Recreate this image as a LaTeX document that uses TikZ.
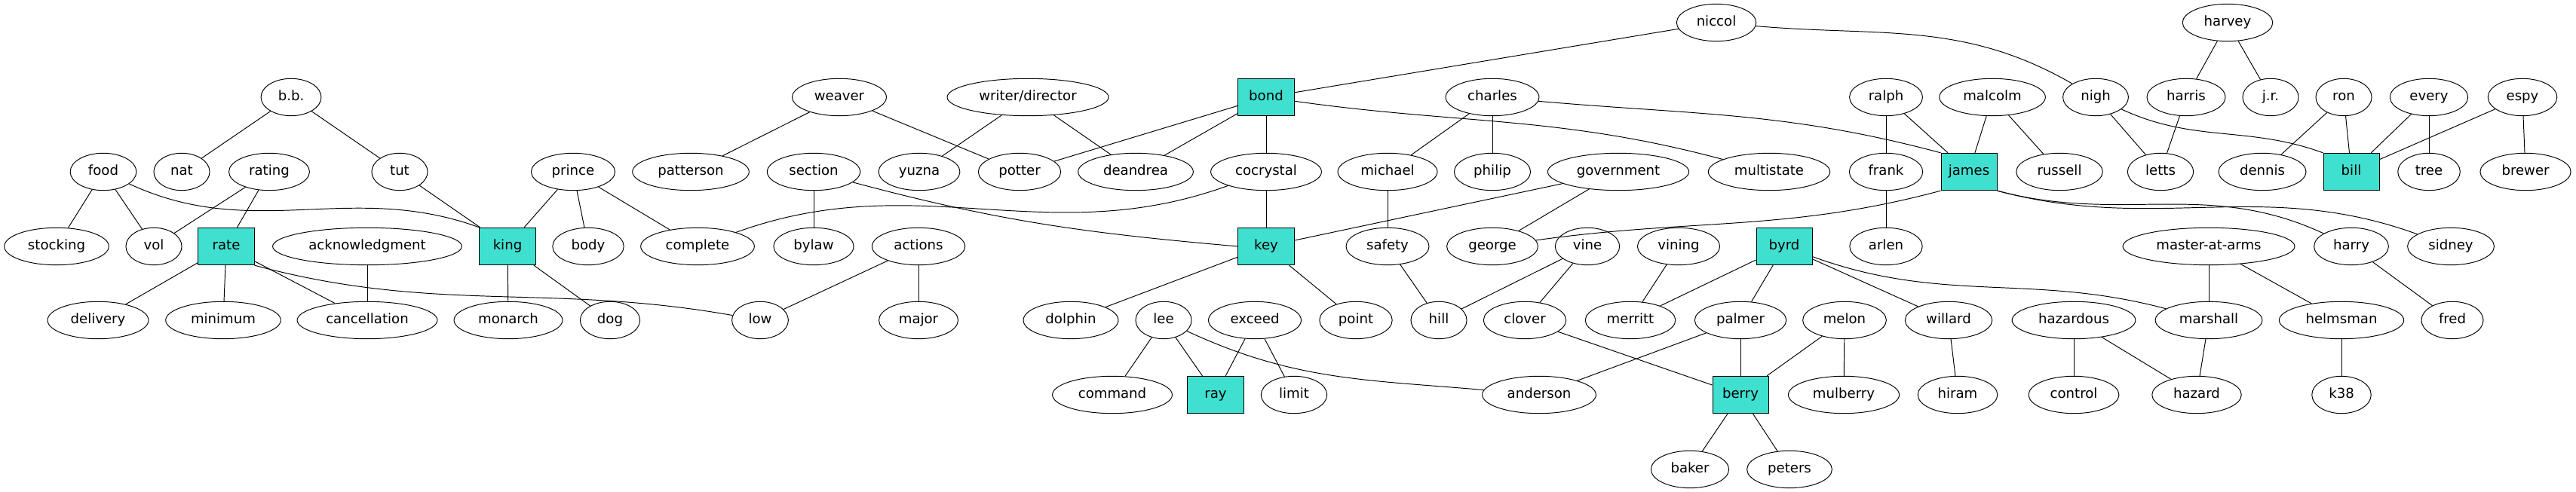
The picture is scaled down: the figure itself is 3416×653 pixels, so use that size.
\documentclass[tikz,border=0pt]{standalone}
\usepackage{fontspec}
\setmainfont{DejaVu Sans}
\usepackage{tikz}
\usetikzlibrary{shapes.geometric}
\definecolor{hubfill}{RGB}{64,224,208}

\begin{document}
\begin{tikzpicture}[x=0.7289pt, y=0.7289pt,
    word/.style={ellipse, draw, line width=0.7pt, minimum width=54pt, minimum height=36pt, inner xsep=8pt, inner ysep=2pt, text height=9.6pt, text depth=3pt, font=\fontsize{13.2}{15}\selectfont},
    hub/.style={rectangle, draw, line width=0.7pt, fill=hubfill, minimum width=54pt, minimum height=36pt, text height=9.6pt, text depth=3pt, font=\fontsize{13.2}{15}\selectfont},
    line/.style={draw, line width=0.7pt}
]
    \useasboundingbox (0,0) rectangle (3416,653);

    \node [word] (niccol) at (2276,623) {niccol};
    \node [word] (harvey) at (2954,623) {harvey};

    \node [word] (bb) at (386,524) {b.b.};
    \node [word] (weaver) at (1113,524) {weaver};
    \node [word] (writer) at (1363,524) {writer/director};
    \node [hub] (bond) at (1679,524) {bond};
    \node [word] (charles) at (1979,524) {charles};
    \node [word] (ralph) at (2501,524) {ralph};
    \node [word] (malcolm) at (2642,524) {malcolm};
    \node [word] (nigh) at (2779,524) {nigh};
    \node [word] (harris) at (2899,524) {harris};
    \node [word] (jr) at (3011,524) {j.r.};
    \node [word] (ron) at (3108,524) {ron};
    \node [word] (every) at (3221,524) {every};
    \node [word] (espy) at (3345,524) {espy};

    \node [word] (food) at (137,425) {food};
    \node [word] (nat) at (241,425) {nat};
    \node [word] (rating) at (357,425) {rating};
    \node [word] (tut) at (530,425) {tut};
    \node [word] (prince) at (760,425) {prince};
    \node [word] (patterson) at (916,425) {patterson};
    \node [word] (section) at (1079,425) {section};
    \node [word] (yuzna) at (1219,425) {yuzna};
    \node [word] (potter) at (1352,425) {potter};
    \node [word] (deandrea) at (1506,425) {deandrea};
    \node [word] (cocrystal) at (1679,425) {cocrystal};
    \node [word] (michael) at (1840,425) {michael};
    \node [word] (philip) at (1979,425) {philip};
    \node [word] (government) at (2146,425) {government};
    \node [word] (multistate) at (2346,425) {multistate};
    \node [word] (frank) at (2501,425) {frank};
    \node [hub] (james) at (2611,425) {james};
    \node [word] (russell) at (2731,425) {russell};
    \node [word] (letts) at (2865,425) {letts};
    \node [word] (dennis) at (3000,425) {dennis};
    \node [hub] (bill) at (3118,425) {bill};
    \node [word] (tree) at (3221,425) {tree};
    \node [word] (brewer) at (3349,425) {brewer};

    \node [word] (stocking) at (75,326) {stocking};
    \node [word] (vol) at (204,326) {vol};
    \node [hub] (rate) at (300,326) {rate};
    \node [word] (acknowledgment) at (487,326) {acknowledgment};
    \node [hub] (king) at (673,326) {king};
    \node [word] (body) at (780,326) {body};
    \node [word] (complete) at (925,326) {complete};
    \node [word] (bylaw) at (1079,326) {bylaw};
    \node [word] (actions) at (1218,326) {actions};
    \node [hub] (key) at (1679,326) {key};
    \node [word] (safety) at (1840,326) {safety};
    \node [word] (george) at (1979,326) {george};
    \node [word] (vine) at (2105,326) {vine};
    \node [word] (vining) at (2226,326) {vining};
    \node [hub] (byrd) at (2366,326) {byrd};
    \node [word] (arlen) at (2501,326) {arlen};
    \node [word] (master) at (2929,326) {master-at-arms};
    \node [word] (harry) at (3118,326) {harry};
    \node [word] (sidney) at (3250,326) {sidney};

    \node [word] (delivery) at (130,228) {delivery};
    \node [word] (minimum) at (296,228) {minimum};
    \node [word] (cancellation) at (487,228) {cancellation};
    \node [word] (monarch) at (674,228) {monarch};
    \node [word] (dog) at (809,228) {dog};
    \node [word] (low) at (1008,228) {low};
    \node [word] (major) at (1218,228) {major};
    \node [word] (dolphin) at (1420,228) {dolphin};
    \node [word] (lee) at (1543,228) {lee};
    \node [word] (exceed) at (1664,228) {exceed};
    \node [word] (point) at (1798,228) {point};
    \node [word] (hill) at (1908,228) {hill};
    \node [word] (clover) at (2022,228) {clover};
    \node [word] (merritt) at (2162,228) {merritt};
    \node [word] (palmer) at (2308,228) {palmer};
    \node [word] (melon) at (2446,228) {melon};
    \node [word] (willard) at (2584,228) {willard};
    \node [word] (hazardous) at (2750,228) {hazardous};
    \node [word] (marshall) at (2929,228) {marshall};
    \node [word] (helmsman) at (3105,228) {helmsman};
    \node [word] (fred) at (3252,228) {fred};

    \node [word] (command) at (1475,129) {command};
    \node [hub] (ray) at (1612,129) {ray};
    \node [word] (limit) at (1716,129) {limit};
    \node [word] (anderson) at (2041,129) {anderson};
    \node [hub] (berry) at (2308,129) {berry};
    \node [word] (mulberry) at (2445,129) {mulberry};
    \node [word] (hiram) at (2596,129) {hiram};
    \node [word] (control) at (2750,129) {control};
    \node [word] (hazard) at (2913,129) {hazard};
    \node [word] (k38) at (3105,129) {k38};

    \node [word] (baker) at (2241,30) {baker};
    \node [word] (peters) at (2373,30) {peters};

    \path [line] (niccol) -- (bond);
    \path [line] (niccol) to[out=-5,in=150] (nigh);
    \path [line] (harvey) -- (harris);
    \path [line] (harvey) -- (jr);
    \path [line] (bb) -- (nat);
    \path [line] (bb) -- (tut);
    \path [line] (weaver) -- (patterson);
    \path [line] (weaver) -- (potter);
    \path [line] (writer) -- (yuzna);
    \path [line] (writer) -- (deandrea);
    \path [line] (bond) -- (potter);
    \path [line] (bond) -- (deandrea);
    \path [line] (bond) -- (cocrystal);
    \path [line] (bond) to[out=-8,in=165] (multistate);
    \path [line] (charles) -- (michael);
    \path [line] (charles) -- (philip);
    \path [line] (charles) to[out=-5,in=165] (james.north west);
    \path [line] (ralph) -- (frank);
    \path [line] (ralph) -- (james);
    \path [line] (malcolm) -- (james);
    \path [line] (malcolm) -- (russell);
    \path [line] (nigh) -- (letts);
    \path [line] (nigh) to[out=-25,in=160] (bill.north west);
    \path [line] (harris) -- (letts);
    \path [line] (ron) -- (dennis);
    \path [line] (ron) -- (bill);
    \path [line] (every) -- (bill);
    \path [line] (every) -- (tree);
    \path [line] (espy) -- (bill);
    \path [line] (espy) -- (brewer);
    \path [line] (food) -- (stocking);
    \path [line] (food) -- (vol);
    \path [line] (food) to[out=-25,in=160] (king.north west);
    \path [line] (rating) -- (vol);
    \path [line] (rating) -- (rate);
    \path [line] (tut) -- (king);
    \path [line] (prince) -- (king);
    \path [line] (prince) -- (body);
    \path [line] (prince) -- (complete);
    \path [line] (section) -- (bylaw);
    \path [line] (section) to[out=-15,in=175] (key.west);
    \path [line] (cocrystal) to[out=200,in=20] (complete);
    \path [line] (cocrystal) -- (key);
    \path [line] (michael) -- (safety);
    \path [line] (government) -- (key);
    \path [line] (government) -- (george);
    \path [line] (frank) -- (arlen);
    \path [line] (james.south west) to[out=195,in=8] (george);
    \path [line] (james.south east) to[out=-15,in=155] (harry);
    \path [line] (james.south east) to[out=-15,in=160] (sidney);
    \path [line] (rate) -- (delivery);
    \path [line] (rate) -- (minimum);
    \path [line] (rate) -- (cancellation);
    \path [line] (rate.south east) to[out=-15,in=170] (low);
    \path [line] (acknowledgment) -- (cancellation);
    \path [line] (king) -- (monarch);
    \path [line] (king) -- (dog);
    \path [line] (actions) -- (low);
    \path [line] (actions) -- (major);
    \path [line] (key) -- (dolphin);
    \path [line] (key) -- (point);
    \path [line] (safety) -- (hill);
    \path [line] (vine) -- (hill);
    \path [line] (vine) -- (clover);
    \path [line] (vining) -- (merritt);
    \path [line] (byrd) -- (merritt);
    \path [line] (byrd) -- (palmer);
    \path [line] (byrd) -- (willard);
    \path [line] (byrd) to[out=-20,in=165] (marshall);
    \path [line] (master) -- (marshall);
    \path [line] (master) -- (helmsman);
    \path [line] (harry) -- (fred);
    \path [line] (lee) -- (command);
    \path [line] (lee) -- (ray);
    \path [line] (lee) to[out=-25,in=175] (anderson);
    \path [line] (exceed) -- (ray);
    \path [line] (exceed) -- (limit);
    \path [line] (clover) -- (berry);
    \path [line] (palmer) -- (anderson);
    \path [line] (palmer) -- (berry);
    \path [line] (melon) -- (berry);
    \path [line] (melon) -- (mulberry);
    \path [line] (willard) -- (hiram);
    \path [line] (hazardous) -- (control);
    \path [line] (hazardous) -- (hazard);
    \path [line] (marshall) -- (hazard);
    \path [line] (helmsman) -- (k38);
    \path [line] (berry) -- (baker);
    \path [line] (berry) -- (peters);
\end{tikzpicture}
\end{document}
